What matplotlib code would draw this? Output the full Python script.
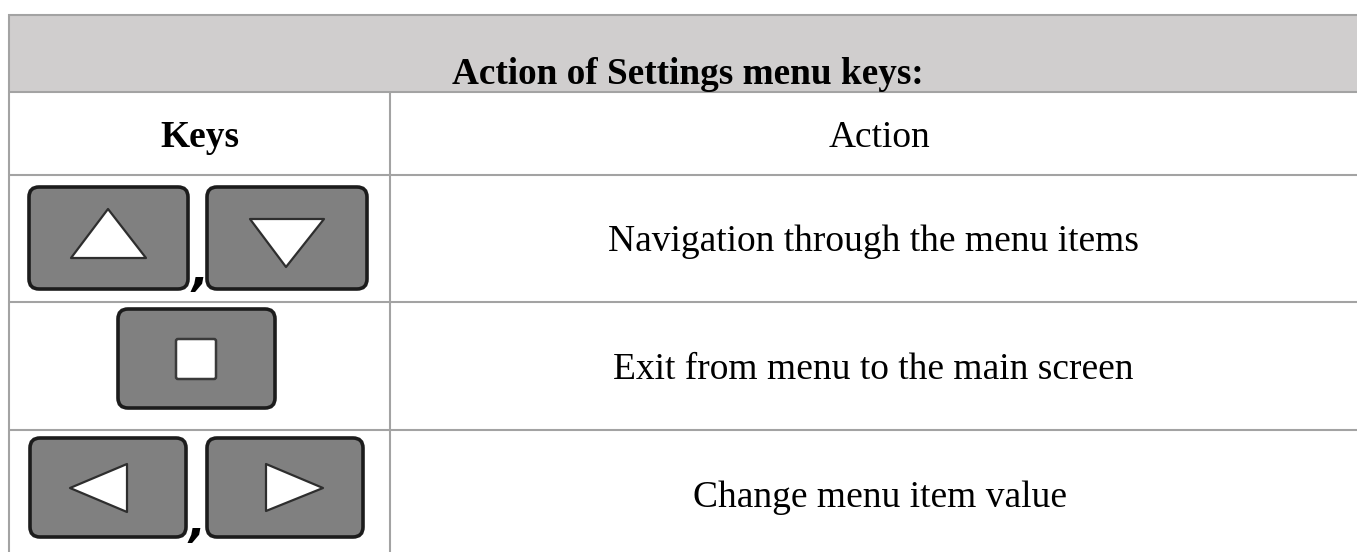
from __future__ import annotations

import matplotlib
import numpy as np

matplotlib.use("Agg")
import matplotlib.pyplot as plt
from matplotlib.patches import FancyBboxPatch, Polygon, Rectangle

TITLE = "Action of Settings menu keys:"
HEADERS = ["Keys", "Action"]
ACTIONS = [
    "Navigation through the menu items",
    "Exit from menu to the main screen",
    "Change menu item value",
]
KEY_ROWS = [["up", "down"], ["stop"], ["left", "right"]]

WIDTH, HEIGHT = 1357, 552
LINE = "#a3a3a3"
HEADER_BG = "#d0cece"
KEY_BG = "#808080"
KEY_EDGE = "#1c1c1c"
SERIF = "Liberation Serif"
FONT_SIZE = 27

# pixel boxes of the keys: x0, x1, y0, y1
KEY_BOXES = {
    "up": (29, 188, 187, 289),
    "down": (207, 367, 187, 289),
    "stop": (118, 275, 309, 408),
    "left": (30, 186, 438, 537),
    "right": (207, 363, 438, 537),
}
GLYPHS = {
    "up": [(108, 209), (71, 258), (146, 258)],
    "down": [(250, 219), (324, 219), (286, 267)],
    "left": [(70, 488), (127, 464), (127, 512)],
    "right": [(266, 464), (266, 511), (323, 488)],
}
STOP_GLYPH = (176, 216, 339, 379)
COMMAS = [(200, 286), (197, 537)]
ACTION_CENTERS = (873, 873, 880)
ACTION_BASELINES = (251, 379, 507)


def draw_grid(ax: plt.Axes) -> None:
    ax.add_patch(Rectangle((8, 14), WIDTH - 8, 77, facecolor=HEADER_BG, edgecolor="none", zorder=0))
    for y in (14.5, 91.5, 174.5, 302, 430):
        ax.plot([8, WIDTH], [y, y], color=LINE, lw=1.5, solid_capstyle="butt", zorder=1)
    ax.plot([8.5, 8.5], [14, HEIGHT], color=LINE, lw=1.5, solid_capstyle="butt", zorder=1)
    ax.plot([390, 390], [91, HEIGHT], color=LINE, lw=1.5, solid_capstyle="butt", zorder=1)


def draw_key(ax: plt.Axes, name: str) -> None:
    x0, x1, y0, y1 = KEY_BOXES[name]
    ax.add_patch(
        FancyBboxPatch(
            (x0 + 9, y0 + 9),
            x1 - x0 - 18,
            y1 - y0 - 18,
            boxstyle="round,pad=9,rounding_size=10",
            facecolor=KEY_BG,
            edgecolor=KEY_EDGE,
            lw=2.6,
            zorder=3,
        )
    )
    if name == "stop":
        gx0, gx1, gy0, gy1 = STOP_GLYPH
        ax.add_patch(
            FancyBboxPatch(
                (gx0 + 2, gy0 + 2),
                gx1 - gx0 - 4,
                gy1 - gy0 - 4,
                boxstyle="round,pad=2,rounding_size=2",
                facecolor="white",
                edgecolor="#3a3a3a",
                lw=1.8,
                zorder=4,
            )
        )
    else:
        ax.add_patch(
            Polygon(np.array(GLYPHS[name]), closed=True, facecolor="white", edgecolor="#2e2e2e", lw=1.6, joinstyle="round", zorder=4)
        )


def main() -> None:
    fig = plt.figure(figsize=(WIDTH / 100, HEIGHT / 100), dpi=100)
    ax = fig.add_axes([0, 0, 1, 1])
    ax.set_xlim(0, WIDTH)
    ax.set_ylim(HEIGHT, 0)
    ax.axis("off")

    draw_grid(ax)

    ax.text(688, 84, TITLE, family=SERIF, weight="bold", fontsize=26.8, ha="center", va="baseline", color="black")
    ax.text(199.5, 147, HEADERS[0], family=SERIF, weight="bold", fontsize=FONT_SIZE, ha="center", va="baseline", color="black")
    ax.text(879.5, 147, HEADERS[1], family=SERIF, fontsize=FONT_SIZE, ha="center", va="baseline", color="black")

    for action, center, baseline in zip(ACTIONS, ACTION_CENTERS, ACTION_BASELINES):
        ax.text(center, baseline, action, family=SERIF, fontsize=FONT_SIZE, ha="center", va="baseline", color="black")

    for row in KEY_ROWS:
        for name in row:
            draw_key(ax, name)

    # the comma sits partly behind the key in the first row
    for x, y in COMMAS:
        ax.text(x, y, ",", family="DejaVu Sans", weight="bold", style="italic", fontsize=32, ha="center", va="baseline", color="black", zorder=2)

    fig.savefig("out.png", dpi=100, facecolor="white")
    plt.close(fig)


if __name__ == "__main__":
    main()
